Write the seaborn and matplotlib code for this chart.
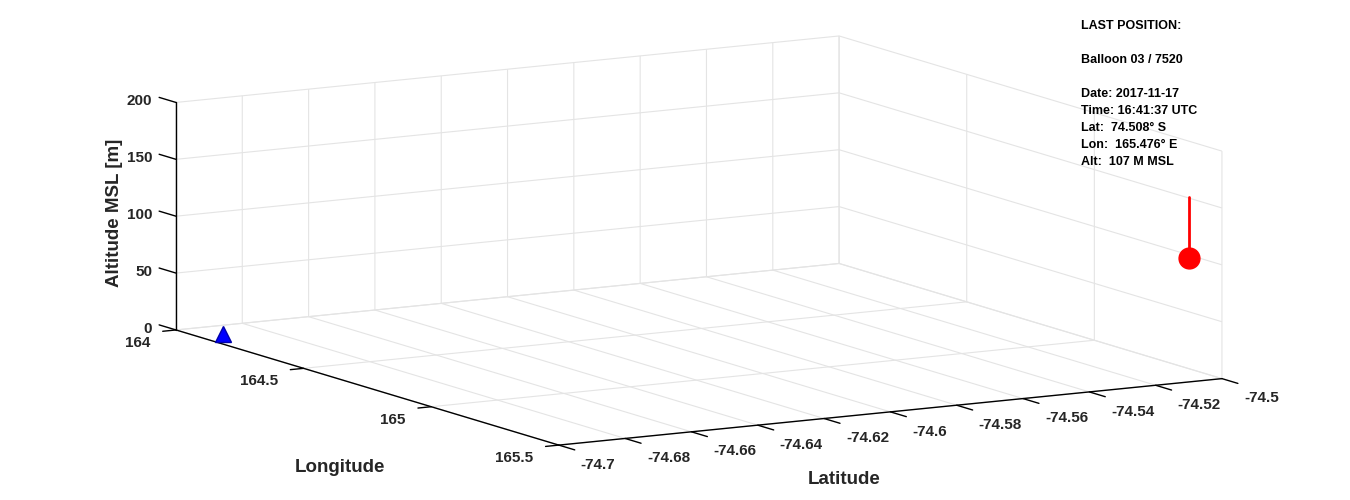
import matplotlib
matplotlib.use("Agg")
import matplotlib.pyplot as plt
import seaborn as sns

# balloon track (lon [deg E], lat [deg], altitude MSL [m])
track_lon = [165.476, 165.476]
track_lat = [-74.508, -74.508]
track_alt = [160, 107]

# launch site
launch_lon = [164.17]
launch_lat = [-74.699]
launch_alt = [8]

# last position
last_lon = [165.476]
last_lat = [-74.508]
last_alt = [107]

lon_ticks = [164, 164.5, 165, 165.5]
lat_ticks = [-74.7, -74.68, -74.66, -74.64, -74.62, -74.6, -74.58, -74.56, -74.54, -74.52, -74.5]
alt_ticks = [0, 50, 100, 150, 200]

info_lines = [
    "LAST POSITION:",
    "",
    "Balloon 03 / 7520",
    "",
    "Date: 2017-11-17",
    "Time: 16:41:37 UTC",
    "Lat:  74.508° S",
    "Lon:  165.476° E",
    "Alt:  107 M MSL",
]

sns.set_theme(style="white")
plt.rcParams["font.family"] = ["Liberation Sans", "DejaVu Sans"]
plt.rcParams["font.weight"] = "bold"
plt.rcParams["xtick.color"] = "black"
plt.rcParams["ytick.color"] = "black"

grid_gray = "#e4e4e4"
edge_gray = "#cdcdcd"
label_col = "#262626"

fig = plt.figure(figsize=(13.5, 5), dpi=100)
ax = fig.add_axes([0.02326, -0.8162, 0.96296, 2.6], projection="3d", proj_type="ortho")
ax.view_init(elev=10, azim=-30)
ax.set_box_aspect((1, 1, 0.3017), zoom=1074.9 / 1300)

ax.set_xlim(lon_ticks[0], lon_ticks[-1])
ax.set_ylim(lat_ticks[0], lat_ticks[-1])
ax.set_zlim(alt_ticks[0], alt_ticks[-1])

for axis in (ax.xaxis, ax.yaxis, ax.zaxis):
    axis.set_pane_color((1, 1, 1, 0))
    axis.pane.set_edgecolor(edge_gray)
    axis.pane.set_linewidth(0.8)
    axis.line.set_color("black")
    axis.line.set_linewidth(1.0)
    axis._axinfo["grid"].update(color=grid_gray, linewidth=0.8, linestyle="-")
    axis._axinfo["tick"]["linewidth"] = {True: 1.0, False: 0.5}

# ticks pointing out of the box, as in the original
ax.xaxis._axinfo["tick"].update(inward_factor=0.25, outward_factor=0.0)
ax.yaxis._axinfo["tick"].update(inward_factor=0.52, outward_factor=0.0)
ax.zaxis._axinfo["tick"].update(inward_factor=0.0, outward_factor=0.55)

# altitude axis on the left front edge, ticks along longitude
ax.zaxis.set_ticks_position("lower")
ax.zaxis._get_tickdir = lambda position: 0

ax.set_xticks(lon_ticks)
ax.set_xticklabels([f"{v:g}" for v in lon_ticks])
ax.set_yticks(lat_ticks)
ax.set_yticklabels([f"{v:g}" for v in lat_ticks])
ax.set_zticks(alt_ticks)
ax.set_zticklabels([f"{v:g}" for v in alt_ticks])

ax.tick_params(axis="x", pad=11, labelsize=11, labelcolor=label_col)
ax.tick_params(axis="y", pad=20, labelsize=11, labelcolor=label_col)
ax.tick_params(axis="z", pad=3, labelsize=11, labelcolor=label_col)

for t in ax.get_xticklabels():
    t.set_horizontalalignment("right")
    t.set_verticalalignment("center_baseline")
for t in ax.get_yticklabels():
    t.set_horizontalalignment("left")
    t.set_verticalalignment("center")
for t in ax.get_zticklabels():
    t.set_horizontalalignment("right")
    t.set_verticalalignment("center")

ax.plot(track_lon, track_lat, track_alt, color="red", linewidth=2)
ax.plot(last_lon, last_lat, last_alt, linestyle="none", marker="o",
        markersize=15, color="red", markeredgecolor="red")
ax.plot(launch_lon, launch_lat, launch_alt, linestyle="none", marker="^",
        markersize=12, color="blue", markeredgecolor="#0000aa")

fig.text(0.2519, 0.066, "Longitude", fontsize=13.5, color=label_col,
         ha="center", va="center")
fig.text(0.6252, 0.042, "Latitude", fontsize=13.5, color=label_col,
         ha="center", va="center")
fig.text(0.0848, 0.575, "Altitude MSL [m]", fontsize=13.5, color=label_col,
         ha="center", va="center", rotation=90)

# info box, one line every 17 px
for i, line in enumerate(info_lines):
    fig.text(0.8005, 1 - (29 + 17 * i) / 500, line, fontsize=9,
             color="black", ha="left", va="baseline")

fig.savefig("out.png", dpi=100)
